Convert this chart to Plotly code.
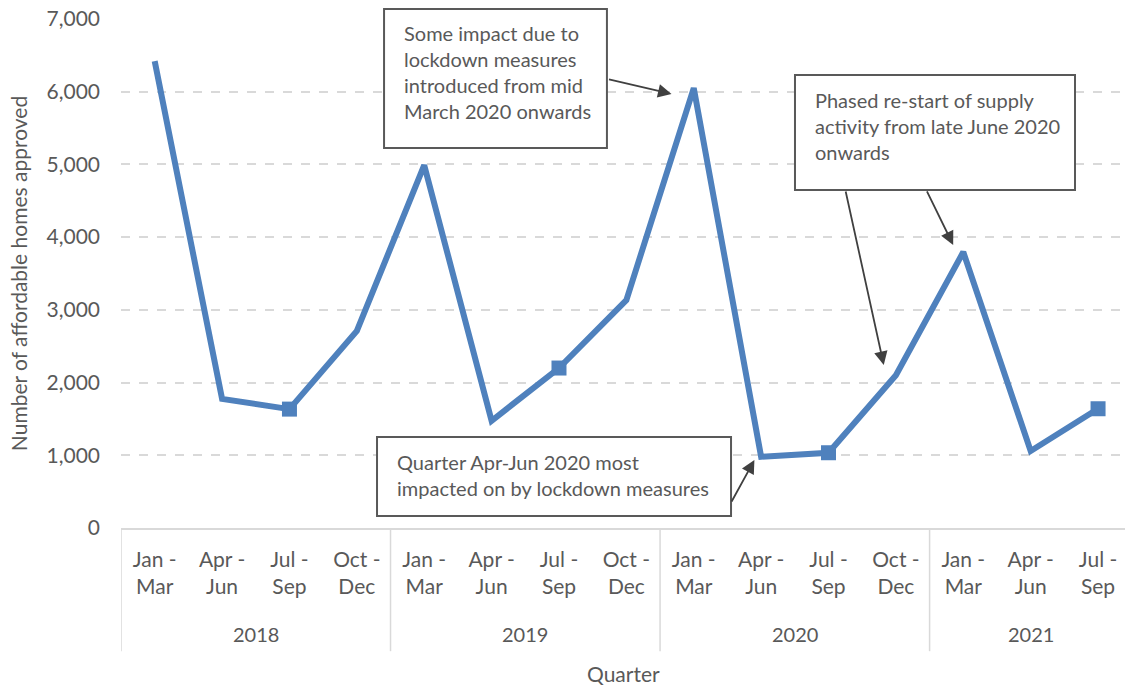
import plotly.graph_objects as go

# quarterly approvals, Jan-Mar 2018 .. Jul-Sep 2021
years = ["2018"] * 4 + ["2019"] * 4 + ["2020"] * 4 + ["2021"] * 3
quarters = ["Jan - Mar", "Apr - Jun", "Jul - Sep", "Oct - Dec"] * 3 + ["Jan - Mar", "Apr - Jun", "Jul - Sep"]
homes = [6420, 1775, 1635, 2710, 4990, 1475, 2200, 3135, 6050, 980, 1035, 2100, 3795, 1060, 1640]

notes = [
    "Some impact due to<br>lockdown measures<br>introduced from mid<br>March 2020 onwards",
    "Phased re-start of supply<br>activity from late June 2020<br>onwards",
    "Quarter Apr-Jun 2020 most<br>impacted on by lockdown measures",
]

FONT = "Lato"
GREY = "#595959"
LIGHT = "#d9d9d9"
BLUE = "#4f81bd"

x_idx = list(range(len(homes)))
ticktext = [q.replace(" - ", " -<br>") for q in quarters]
marker_sizes = [15 if q == "Jul - Sep" else 0 for q in quarters]

fig = go.Figure()
fig.add_trace(go.Scatter(
    x=x_idx, y=homes, mode="lines+markers",
    line=dict(color=BLUE, width=6),
    marker=dict(symbol="square", size=marker_sizes, color=BLUE, opacity=1, line=dict(width=0)),
    hoverinfo="skip", showlegend=False,
))

# year group labels and dividers
year_list = list(dict.fromkeys(years))
annotations = []
shapes = []
for yr in year_list:
    idx = [i for i, y in enumerate(years) if y == yr]
    annotations.append(dict(
        x=sum(idx) / len(idx), y=-0.208, xref="x", yref="paper", yanchor="middle",
        text=yr, showarrow=False, font=dict(family=FONT, size=20, color=GREY),
    ))
    shapes.append(dict(
        type="line", xref="x", yref="paper", x0=idx[0] - 0.5, x1=idx[0] - 0.5,
        y0=0, y1=-0.242, line=dict(color=LIGHT, width=1.5),
    ))

annotations.append(dict(
    x=0.5, y=-0.285, xref="paper", yref="paper", yanchor="middle", text="Quarter",
    showarrow=False, font=dict(family=FONT, size=21, color=GREY),
))

# callout boxes (paper units): box x0, x1, y0, y1, text left, text top
box_pos = [
    (0.262, 0.484, 0.7466, 1.0196, 0.280, 1.000),
    (0.6713, 0.9502, 0.6640, 0.8900, 0.689, 0.868),
    (0.255, 0.6076, 0.0236, 0.1788, 0.273, 0.158),
]
for text, (x0, x1, y0, y1, tx, ty) in zip(notes, box_pos):
    shapes.append(dict(
        type="rect", xref="paper", yref="paper", x0=x0, x1=x1, y0=y0, y1=y1,
        line=dict(color=GREY, width=2), fillcolor="white", layer="above",
    ))
    annotations.append(dict(
        x=tx, y=ty, xref="paper", yref="paper", xanchor="left", yanchor="top",
        text=text, showarrow=False, align="left",
        font=dict(family=FONT, size=20, color=GREY),
    ))

# arrows: (tail x, tail y, head x, head y)
arrows = [
    (6.72, 6176, 7.67, 5970),
    (10.25, 4649, 10.82, 2242),
    (11.45, 4649, 11.85, 3893),
    (8.55, 344, 8.90, 935),
]
for ax, ay, hx, hy in arrows:
    annotations.append(dict(
        x=hx, y=hy, ax=ax, ay=ay, xref="x", yref="y", axref="x", ayref="y",
        text="", showarrow=True, arrowhead=2, arrowsize=1.5, arrowwidth=1.8,
        arrowcolor="#404040",
    ))

fig.update_layout(
    width=1125, height=689,
    margin=dict(l=121, r=0, t=19, b=161, autoexpand=False),
    paper_bgcolor="white", plot_bgcolor="white",
    font=dict(family=FONT, color=GREY),
    annotations=annotations, shapes=shapes,
    xaxis=dict(
        range=[-0.5, 14.4], tickvals=x_idx, ticktext=ticktext, automargin=False,
        showgrid=False, zeroline=False, showline=True, linecolor=LIGHT, linewidth=1.5,
        ticks="", ticklabelstandoff=12, tickfont=dict(family=FONT, size=21, color=GREY),
    ),
    yaxis=dict(
        range=[0, 7000], dtick=1000, tickformat=",", automargin=False,
        showgrid=True, gridcolor=LIGHT, gridwidth=1.5, griddash="dash",
        zeroline=False, showline=False, ticks="", ticklabelstandoff=20,
        tickfont=dict(family=FONT, size=21, color=GREY),
        title=dict(text="Number of affordable homes approved",
                   font=dict(family=FONT, size=21, color=GREY), standoff=13),
    ),
)

fig.write_html("out.html", config={"displayModeBar": False},
               post_script="document.body.style.margin='0';")
